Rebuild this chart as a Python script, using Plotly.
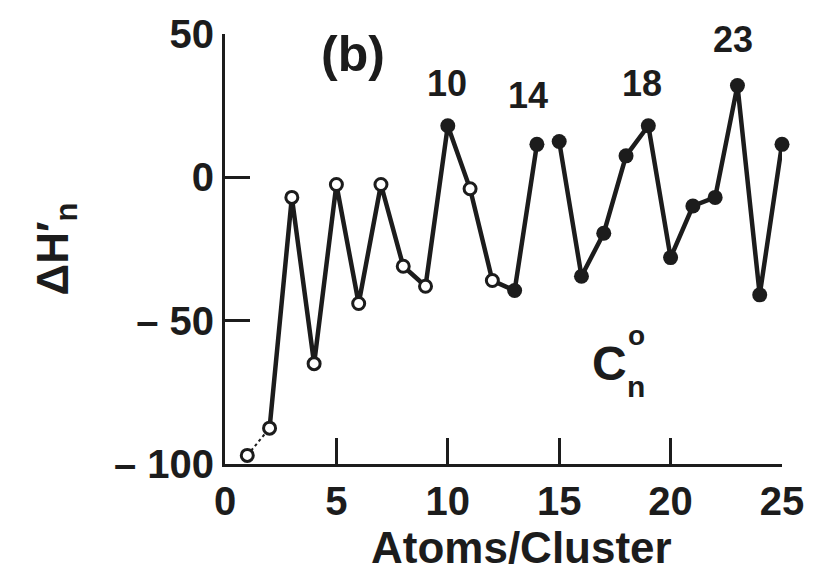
import plotly.graph_objects as go

# data
n_atoms = list(range(1, 26))
dH = [-97, -87.5, -7, -65, -2.5, -44, -2.5, -31, -38, 18, -4, -36, -39.5,
      11.5, 12.5, -34.5, -19.5, 7.5, 18, -28, -10, -7, 32, -41, 11.5]
open_points = [1, 2, 3, 4, 5, 6, 7, 8, 9, 11, 12]  # hollow markers
magic_labels = ["10", "14", "18", "23"]
x_ticks = [0, 5, 10, 15, 20, 25]
y_ticks = [-100, -50, 0, 50]
y_ticktext = ["\u2013 100", "\u2013 50", "0", "50"]

FONT = "Liberation Sans, Arial, sans-serif"
INK = "#1c1c1c"

# main connecting line (starts at n=2, gap between 14 and 15)
lx, ly = [], []
for n, v in zip(n_atoms, dH):
    if n < 2:
        continue
    if n == 15:
        lx.append(None); ly.append(None)
    lx.append(n); ly.append(v)

fig = go.Figure()
fig.add_trace(go.Scatter(x=n_atoms[:2], y=dH[:2], mode="lines",
                         line=dict(color=INK, width=2, dash="dot"),
                         cliponaxis=False, showlegend=False))
fig.add_trace(go.Scatter(x=lx, y=ly, mode="lines",
                         line=dict(color=INK, width=4.5),
                         cliponaxis=False, showlegend=False))

ox = [n for n in n_atoms if n in open_points]
oy = [v for n, v in zip(n_atoms, dH) if n in open_points]
fx = [n for n in n_atoms if n not in open_points]
fy = [v for n, v in zip(n_atoms, dH) if n not in open_points]

fig.add_trace(go.Scatter(x=ox, y=oy, mode="markers",
                         marker=dict(symbol="circle", size=12, color="white",
                                     line=dict(color=INK, width=3)),
                         cliponaxis=False, showlegend=False))
fig.add_trace(go.Scatter(x=fx, y=fy, mode="markers",
                         marker=dict(symbol="circle", size=15, color=INK,
                                     line=dict(color=INK, width=0)),
                         cliponaxis=False, showlegend=False))

annots = []
label_pos = [(9.95, 32.6), (13.6, 28.5), (18.7, 32.6), (22.8, 48.0)]
for t, (ax_, ay_) in zip(magic_labels, label_pos):
    annots.append(dict(x=ax_, y=ay_, xref="x", yref="y", text="<b>" + t + "</b>",
                       showarrow=False,
                       font=dict(family=FONT, size=36, color=INK)))
annots.append(dict(x=5.74, y=43.0, xref="x", yref="y", text="<b>(b)</b>",
                   showarrow=False, font=dict(family=FONT, size=50, color=INK)))
annots.append(dict(x=17.26, y=-64.8, xref="x", yref="y", text="<b>C</b>",
                   showarrow=False, font=dict(family=FONT, size=48, color=INK)))
annots.append(dict(x=18.46, y=-55, xref="x", yref="y", text="<b>o</b>",
                   showarrow=False, font=dict(family=FONT, size=28, color=INK)))
annots.append(dict(x=18.46, y=-73.0, xref="x", yref="y", text="<b>n</b>",
                   showarrow=False, font=dict(family=FONT, size=30, color=INK)))
annots.append(dict(x=(522 - 225) / 558, y=0, xref="paper", yref="paper",
                   yanchor="top", yshift=-57, text="<b>Atoms/Cluster</b>",
                   showarrow=False, font=dict(family=FONT, size=44, color=INK)))

fig.update_layout(
    width=816, height=577,
    margin=dict(l=225, r=33, t=24, b=113),
    paper_bgcolor="white", plot_bgcolor="white",
    showlegend=False,
    annotations=annots,
    font=dict(family=FONT, color=INK),
)
fig.update_xaxes(range=[0, 25], tickvals=x_ticks,
                 ticktext=["<b>%d</b>" % v for v in x_ticks],
                 ticks="inside", ticklen=26,
                 tickwidth=3, tickcolor=INK, showline=True, linewidth=3,
                 linecolor=INK, showgrid=False, zeroline=False,
                 tickfont=dict(family=FONT, size=40, color=INK))
fig.update_yaxes(range=[-100, 50], tickvals=y_ticks,
                 ticktext=["<b>%s</b>" % t for t in y_ticktext],
                 ticks="inside", ticklen=25, tickwidth=3, tickcolor=INK,
                 showline=True, linewidth=3, linecolor=INK, showgrid=False,
                 zeroline=False,
                 tickfont=dict(family=FONT, size=40, color=INK),
                 title=dict(text="<b>\u0394H\u2032<sub>n</sub></b>", standoff=32,
                            font=dict(family=FONT, size=44, color=INK)))

fig.write_html("out.html")
